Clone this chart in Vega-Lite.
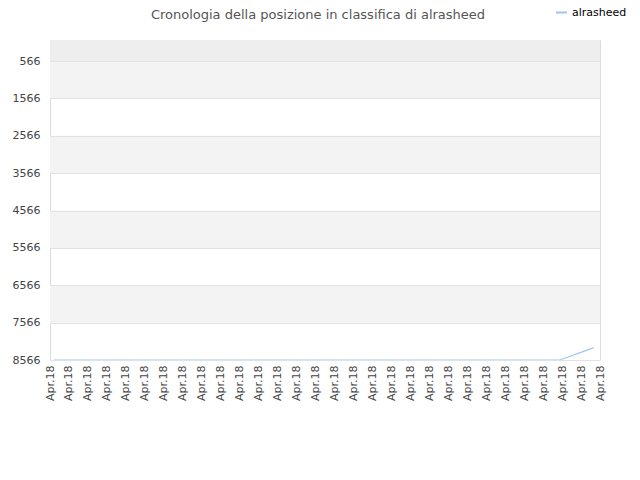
{
  "$schema": "https://vega.github.io/schema/vega-lite/v6.json",
  "width": 550,
  "height": 320,
  "padding": {"left": 50, "top": 40, "right": 40, "bottom": 120},
  "autosize": {"type": "none"},
  "background": "white",
  "title": {
    "text": "Cronologia della posizione in classifica di alrasheed",
    "anchor": "middle",
    "dx": -7,
    "dy": 16,
    "offset": 0,
    "fontSize": 13,
    "fontWeight": "normal",
    "color": "#555555",
    "font": "DejaVu Sans"
  },
  "datasets": {
    "bands": [
      {"top": 1, "bottom": 566, "shade": "top"},
      {"top": 566, "bottom": 1566, "shade": "alt"},
      {"top": 2566, "bottom": 3566, "shade": "alt"},
      {"top": 4566, "bottom": 5566, "shade": "alt"},
      {"top": 6566, "bottom": 7566, "shade": "alt"}
    ],
    "ranks": [
      {"date": "2018-04-01T05:00:00", "rank": 8566, "name": "alrasheed"},
      {"date": "2018-04-02T05:00:00", "rank": 8566, "name": "alrasheed"},
      {"date": "2018-04-03T05:00:00", "rank": 8566, "name": "alrasheed"},
      {"date": "2018-04-04T05:00:00", "rank": 8566, "name": "alrasheed"},
      {"date": "2018-04-05T05:00:00", "rank": 8566, "name": "alrasheed"},
      {"date": "2018-04-06T05:00:00", "rank": 8566, "name": "alrasheed"},
      {"date": "2018-04-07T05:00:00", "rank": 8566, "name": "alrasheed"},
      {"date": "2018-04-08T05:00:00", "rank": 8566, "name": "alrasheed"},
      {"date": "2018-04-09T05:00:00", "rank": 8566, "name": "alrasheed"},
      {"date": "2018-04-10T05:00:00", "rank": 8566, "name": "alrasheed"},
      {"date": "2018-04-11T05:00:00", "rank": 8566, "name": "alrasheed"},
      {"date": "2018-04-12T05:00:00", "rank": 8566, "name": "alrasheed"},
      {"date": "2018-04-13T05:00:00", "rank": 8566, "name": "alrasheed"},
      {"date": "2018-04-14T05:00:00", "rank": 8566, "name": "alrasheed"},
      {"date": "2018-04-15T05:00:00", "rank": 8566, "name": "alrasheed"},
      {"date": "2018-04-16T05:00:00", "rank": 8566, "name": "alrasheed"},
      {"date": "2018-04-17T05:00:00", "rank": 8566, "name": "alrasheed"},
      {"date": "2018-04-18T05:00:00", "rank": 8566, "name": "alrasheed"},
      {"date": "2018-04-19T05:00:00", "rank": 8566, "name": "alrasheed"},
      {"date": "2018-04-20T05:00:00", "rank": 8566, "name": "alrasheed"},
      {"date": "2018-04-21T05:00:00", "rank": 8566, "name": "alrasheed"},
      {"date": "2018-04-22T05:00:00", "rank": 8566, "name": "alrasheed"},
      {"date": "2018-04-23T05:00:00", "rank": 8566, "name": "alrasheed"},
      {"date": "2018-04-24T05:00:00", "rank": 8566, "name": "alrasheed"},
      {"date": "2018-04-25T05:00:00", "rank": 8566, "name": "alrasheed"},
      {"date": "2018-04-26T05:00:00", "rank": 8566, "name": "alrasheed"},
      {"date": "2018-04-27T05:00:00", "rank": 8566, "name": "alrasheed"},
      {"date": "2018-04-27T21:00:00", "rank": 8566, "name": "alrasheed"},
      {"date": "2018-04-28T05:00:00", "rank": 8507, "name": "alrasheed"},
      {"date": "2018-04-29T05:00:00", "rank": 8323, "name": "alrasheed"},
      {"date": "2018-04-29T16:00:00", "rank": 8235, "name": "alrasheed"}
    ]
  },
  "layer": [
    {
      "data": {"name": "bands"},
      "mark": {"type": "rect"},
      "encoding": {
        "y": {
          "field": "top",
          "type": "quantitative",
          "scale": {"domain": [1, 8566], "reverse": true, "nice": false, "zero": false},
          "axis": {
            "title": null,
            "values": [566, 1566, 2566, 3566, 4566, 5566, 6566, 7566, 8566],
            "format": "d",
            "labelFontSize": 11,
            "labelColor": "#444444",
            "labelPadding": 10,
            "labelOverlap": false,
            "labelFlush": false,
            "ticks": false,
            "domain": false,
            "grid": true,
            "gridColor": "#e2e2e2",
            "zindex": 1
          }
        },
        "y2": {"field": "bottom"},
        "fill": {
          "field": "shade",
          "type": "nominal",
          "scale": {"domain": ["top", "alt"], "range": ["#eeeeee", "#f3f3f3"]},
          "legend": null
        }
      }
    },
    {
      "data": {"name": "ranks"},
      "mark": {"type": "line", "strokeWidth": 1.2, "interpolate": "linear"},
      "encoding": {
        "x": {
          "field": "date",
          "type": "temporal",
          "scale": {"domain": ["2018-04-01T00:00:00", "2018-04-30T00:00:00"], "nice": false},
          "axis": {
            "title": null,
            "values": [
              "2018-04-01T00:00:00", "2018-04-02T00:00:00", "2018-04-03T00:00:00", "2018-04-04T00:00:00", "2018-04-05T00:00:00",
              "2018-04-06T00:00:00", "2018-04-07T00:00:00", "2018-04-08T00:00:00", "2018-04-09T00:00:00", "2018-04-10T00:00:00",
              "2018-04-11T00:00:00", "2018-04-12T00:00:00", "2018-04-13T00:00:00", "2018-04-14T00:00:00", "2018-04-15T00:00:00",
              "2018-04-16T00:00:00", "2018-04-17T00:00:00", "2018-04-18T00:00:00", "2018-04-19T00:00:00", "2018-04-20T00:00:00",
              "2018-04-21T00:00:00", "2018-04-22T00:00:00", "2018-04-23T00:00:00", "2018-04-24T00:00:00", "2018-04-25T00:00:00",
              "2018-04-26T00:00:00", "2018-04-27T00:00:00", "2018-04-28T00:00:00", "2018-04-29T00:00:00", "2018-04-30T00:00:00"
            ],
            "format": "%b.%y",
            "labelAngle": -90,
            "labelAlign": "right",
            "labelBaseline": "middle",
            "labelOverlap": false,
            "labelPadding": 5,
            "labelFontSize": 11,
            "labelColor": "#444444",
            "ticks": false,
            "domain": false,
            "grid": false
          }
        },
        "y": {
          "field": "rank",
          "type": "quantitative",
          "axis": {
            "title": null,
            "values": [566, 1566, 2566, 3566, 4566, 5566, 6566, 7566, 8566],
            "format": "d",
            "labelFontSize": 11,
            "labelColor": "#444444",
            "labelPadding": 10,
            "labelOverlap": false,
            "labelFlush": false,
            "ticks": false,
            "domain": false,
            "grid": true,
            "gridColor": "#e2e2e2",
            "zindex": 1
          }
        },
        "color": {
          "field": "name",
          "type": "nominal",
          "scale": {"range": ["#99c5f4"]},
          "legend": {
            "title": null,
            "orient": "none",
            "legendX": 505,
            "legendY": -34,
            "symbolType": "stroke",
            "symbolSize": 120,
            "symbolStrokeWidth": 2,
            "labelFontSize": 11,
            "labelColor": "#000000"
          }
        }
      }
    }
  ],
  "config": {
    "font": "DejaVu Sans",
    "view": {"stroke": "#dcdcdc"},
    "axis": {"labelFont": "DejaVu Sans"},
    "axisY": {"labelOverlap": false, "labelFlush": false},
    "legend": {"labelFont": "DejaVu Sans"}
  }
}
